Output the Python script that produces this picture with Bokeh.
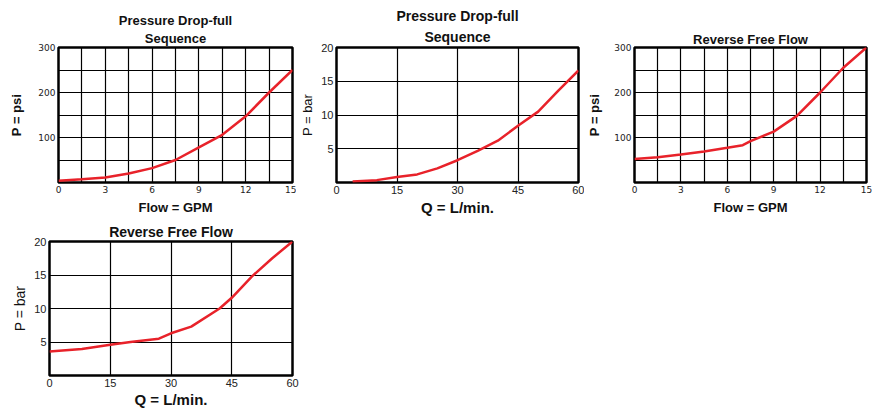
from bokeh.plotting import figure
from bokeh.layouts import column, row
from bokeh.models import Range1d, FixedTicker, Title
from bokeh.embed import file_html
from bokeh.resources import INLINE

# Chart 1: Pressure Drop-full Sequence (psi vs GPM)
gpm1 = [0, 1.5, 3, 4.5, 6, 7.5, 9, 10.5, 12, 13.5, 15]
psi1 = [4, 7, 11, 20, 32, 50, 78, 106, 147, 200, 250]
# Chart 2: Pressure Drop-full Sequence (bar vs L/min)
lpm2 = [4, 10, 15, 20, 25, 30, 35, 40, 45, 50, 55, 60]
bar2 = [0.15, 0.35, 0.8, 1.2, 2.1, 3.3, 4.7, 6.2, 8.4, 10.5, 13.6, 16.6]
# Chart 3: Reverse Free Flow (psi vs GPM)
gpm3 = [0, 1.5, 3, 4.5, 6, 7, 7.5, 9, 10.5, 12, 13.5, 15]
psi3 = [52, 56, 62, 69, 77, 83, 92, 113, 148, 200, 255, 300]
# Chart 4: Reverse Free Flow (bar vs L/min)
lpm4 = [0, 8, 15, 20, 27, 30, 35, 42, 45, 50, 55, 60]
bar4 = [3.6, 3.95, 4.6, 5.0, 5.5, 6.3, 7.3, 10.0, 11.6, 14.8, 17.5, 20.0]

gpm_ticks = [0, 3, 6, 9, 12, 15]
gpm_grid = [0, 1.5, 3, 4.5, 6, 7.5, 9, 10.5, 12, 13.5, 15]
psi_ticks = [100, 200, 300]
psi_grid = [0, 50, 100, 150, 200, 250, 300]
lpm_ticks = [0, 15, 30, 45, 60]
bar_ticks = [5, 10, 15, 20]
bar_grid = [0, 5, 10, 15, 20]

title_seq = ["Pressure Drop-full", "Sequence"]
title_rev = ["Reverse Free Flow"]

FONT = "Liberation Sans"
RED = "#e8222a"


def make(xs, ys, xmax, ymax, xticks, xgrid, yticks, ygrid, titles, xlabel, ylabel,
         width, height, left, right, top, bottom,
         tfs, tstd, xlfs, ylfs, ybold, tickfont, tickfs, yls, xls):
    p = figure(width=width, height=height, output_backend="svg", toolbar_location=None,
               x_range=Range1d(0, xmax), y_range=Range1d(0, ymax),
               min_border_left=left, min_border_right=right,
               min_border_top=top, min_border_bottom=bottom,
               background_fill_color="white", border_fill_color="white")
    # first line is the default title; further lines are added below it (closer to the frame)
    p.title.text = titles[0]
    p.title.align = "center"
    p.title.text_font = FONT
    p.title.text_font_size = tfs
    p.title.text_font_style = "bold"
    p.title.text_color = "#111111"
    p.title.text_line_height = 1.0
    p.title.standoff = tstd if len(titles) == 1 else 0
    p.title.offset = 0
    for t in titles[1:]:
        p.add_layout(Title(text=t, align="center", text_font=FONT, text_font_size=tfs,
                           text_font_style="bold", text_color="#111111",
                           text_line_height=1.0, standoff=tstd, offset=0), "above")
    p.outline_line_color = "black"
    p.outline_line_width = 2.5
    p.xgrid.ticker = FixedTicker(ticks=xgrid)
    p.ygrid.ticker = FixedTicker(ticks=ygrid)
    for g in (p.xgrid, p.ygrid):
        g.grid_line_color = "black"
        g.grid_line_width = 1.2
        g.grid_line_alpha = 1.0
    p.xaxis.ticker = FixedTicker(ticks=xticks)
    p.yaxis.ticker = FixedTicker(ticks=yticks)
    for ax in (p.xaxis, p.yaxis):
        ax.axis_line_color = None
        ax.major_tick_line_color = None
        ax.minor_tick_line_color = None
        ax.major_tick_out = 0
        ax.major_tick_in = 0
        ax.minor_tick_out = 0
        ax.minor_tick_in = 0
        ax.major_label_text_font = tickfont
        ax.major_label_text_font_size = tickfs
        ax.major_label_text_color = "#222222"
        ax.major_label_standoff = 3
        ax.axis_label_text_font = FONT
        ax.axis_label_text_color = "#111111"
    p.xaxis.axis_label = xlabel
    p.xaxis.axis_label_text_font_size = xlfs
    p.xaxis.axis_label_text_font_style = "bold"
    p.xaxis.axis_label_standoff = xls
    p.yaxis.axis_label = ylabel
    p.yaxis.axis_label_text_font_size = ylfs
    p.yaxis.axis_label_text_font_style = "bold" if ybold else "normal"
    p.yaxis.axis_label_standoff = yls
    p.line(xs, ys, line_color=RED, line_width=2.5)
    return p


f1 = make(gpm1, psi1, 15, 300, gpm_ticks, gpm_grid, psi_ticks, psi_grid,
          title_seq, "Flow = GPM", "P = psi",
          296, 220, 58, 4, 47, 38,
          "13px", 3, "13px", "13px", True, "DejaVu Sans", "9px", 11, 4)
f2 = make(lpm2, bar2, 60, 20, lpm_ticks, lpm_ticks, bar_ticks, bar_grid,
          title_seq, "Q = L/min.", "P = bar",
          288, 220, 40, 6, 47, 38,
          "14px", 6, "15px", "13px", False, FONT, "11px", 3, 2)
f3 = make(gpm3, psi3, 15, 300, gpm_ticks, gpm_grid, psi_ticks, psi_grid,
          title_rev, "Flow = GPM", "P = psi",
          288, 220, 48, 6, 47, 38,
          "13px", 2, "13px", "13px", True, "DejaVu Sans", "9px", 9, 4)
f4 = make(lpm4, bar4, 60, 20, lpm_ticks, lpm_ticks, bar_ticks, bar_grid,
          title_rev, "Q = L/min.", "P = bar",
          310, 190, 49, 18, 21, 33,
          "14px", 3, "15px", "14px", False, FONT, "11px", 3, 1)

layout = column(row(f1, f2, f3), row(f4))
open("out.html", "w").write(file_html(layout, INLINE))
